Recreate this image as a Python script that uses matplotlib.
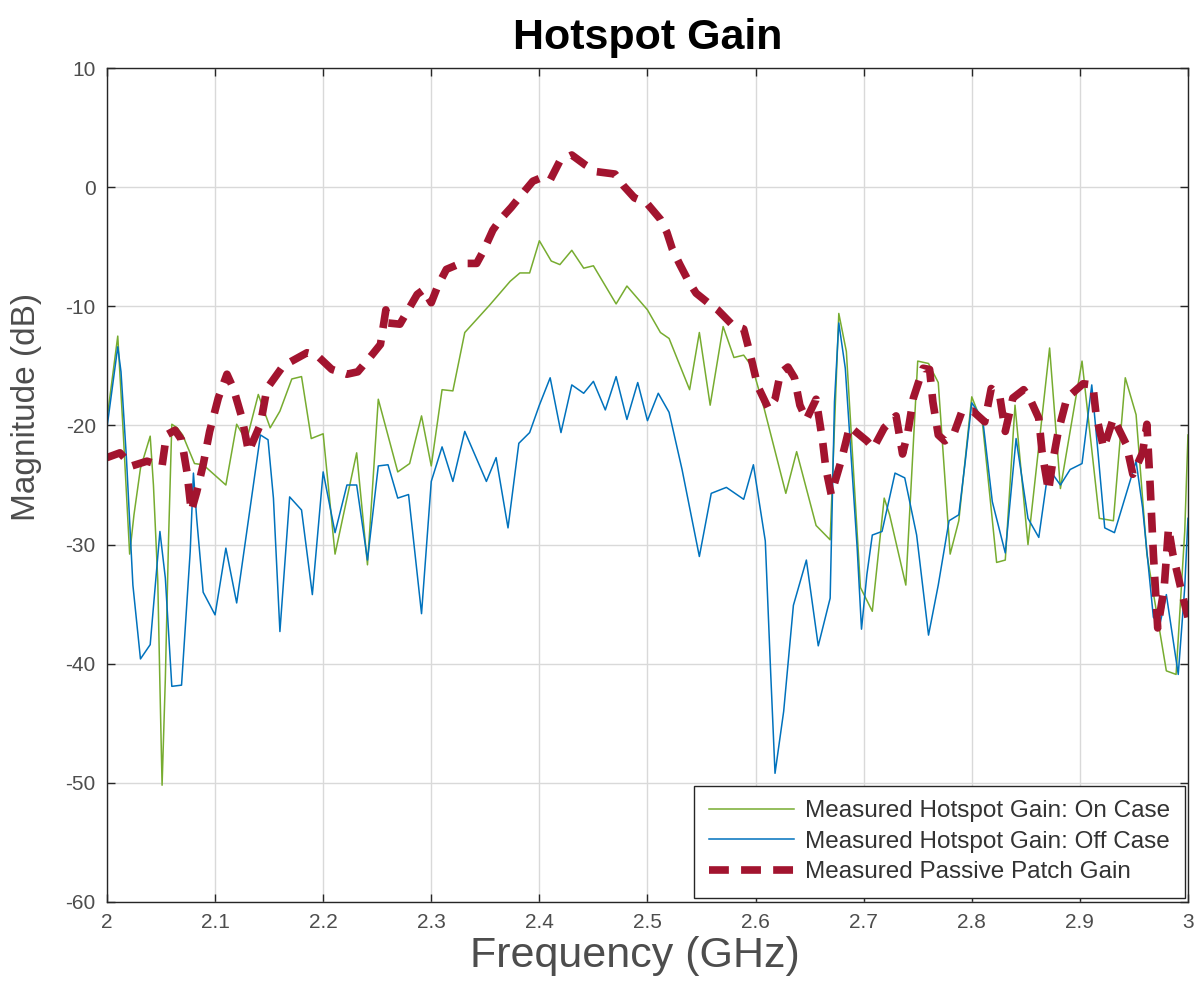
import matplotlib
matplotlib.use("Agg")
import matplotlib.pyplot as plt
import numpy as np


# measured hotspot gain, reflector switched on
freq_on = [2.000, 2.010, 2.015, 2.021, 2.025, 2.031, 2.040, 2.043, 2.047, 2.049,
           2.051, 2.054, 2.057, 2.060, 2.065, 2.070, 2.081, 2.089, 2.110, 2.120,
           2.129, 2.140, 2.151, 2.160, 2.171, 2.180, 2.189, 2.200, 2.211, 2.231,
           2.241, 2.251, 2.269, 2.280, 2.291, 2.300, 2.310, 2.320, 2.331, 2.354,
           2.373, 2.382, 2.391, 2.400, 2.411, 2.419, 2.430, 2.441, 2.450, 2.471,
           2.481, 2.500, 2.512, 2.520, 2.539, 2.548, 2.558, 2.570, 2.580, 2.589,
           2.597, 2.608, 2.628, 2.638, 2.656, 2.669, 2.677, 2.684, 2.697, 2.708,
           2.719, 2.724, 2.739, 2.750, 2.760, 2.769, 2.780, 2.788, 2.800, 2.810,
           2.823, 2.831, 2.840, 2.852, 2.872, 2.882, 2.902, 2.918, 2.931, 2.942,
           2.952, 2.962, 2.980, 2.989, 2.997, 3.000]
gain_on = [-19.5, -12.5, -20.5, -30.8, -27.5, -23.6, -20.9, -25.0, -33.0, -41.8,
           -50.2, -41.3, -29.5, -19.9, -20.2, -20.8, -23.2, -23.3, -25.0, -19.9,
           -21.3, -17.4, -20.2, -18.8, -16.1, -15.9, -21.1, -20.7, -30.8, -22.3,
           -31.7, -17.8, -23.9, -23.2, -19.2, -23.4, -17.0, -17.1, -12.2, -9.9,
           -7.9, -7.2, -7.2, -4.5, -6.2, -6.5, -5.3, -6.8, -6.6, -9.8,
           -8.3, -10.3, -12.2, -12.7, -17.0, -12.2, -18.3, -11.7, -14.3, -14.1,
           -15.1, -18.6, -25.7, -22.2, -28.4, -29.6, -10.6, -13.8, -33.6, -35.6,
           -26.1, -27.5, -33.4, -14.6, -14.8, -16.4, -30.8, -28.0, -17.6, -19.9,
           -31.5, -31.3, -18.3, -30.0, -13.5, -25.3, -14.6, -27.8, -28.0, -16.0,
           -19.1, -30.8, -40.6, -40.9, -28.9, -20.8]

# measured hotspot gain, reflector switched off
freq_off = [2.000, 2.010, 2.013, 2.018, 2.024, 2.031, 2.040, 2.049, 2.054, 2.060,
            2.069, 2.077, 2.080, 2.083, 2.089, 2.100, 2.110, 2.120, 2.142, 2.149,
            2.154, 2.160, 2.169, 2.180, 2.190, 2.200, 2.211, 2.222, 2.231, 2.241,
            2.251, 2.260, 2.269, 2.279, 2.291, 2.300, 2.310, 2.320, 2.331, 2.351,
            2.360, 2.371, 2.381, 2.391, 2.400, 2.410, 2.420, 2.430, 2.441, 2.450,
            2.461, 2.471, 2.481, 2.491, 2.500, 2.510, 2.520, 2.532, 2.548, 2.559,
            2.573, 2.589, 2.598, 2.609, 2.614, 2.618, 2.626, 2.635, 2.647, 2.658,
            2.669, 2.673, 2.677, 2.683, 2.694, 2.698, 2.703, 2.708, 2.717, 2.729,
            2.738, 2.749, 2.760, 2.769, 2.779, 2.788, 2.794, 2.800, 2.810, 2.819,
            2.831, 2.841, 2.852, 2.862, 2.871, 2.882, 2.891, 2.902, 2.911, 2.917,
            2.923, 2.932, 2.952, 2.958, 2.968, 2.974, 2.980, 2.991, 2.997, 3.000]
gain_off = [-20.2, -13.4, -15.5, -22.7, -33.4, -39.6, -38.4, -28.9, -32.8, -41.9,
            -41.8, -30.6, -24.0, -27.8, -34.0, -35.9, -30.3, -34.9, -20.8, -21.2,
            -26.1, -37.3, -26.0, -27.1, -34.2, -23.9, -29.0, -25.0, -25.0, -31.3,
            -23.4, -23.3, -26.1, -25.8, -35.8, -24.7, -21.8, -24.7, -20.5, -24.7,
            -22.7, -28.6, -21.5, -20.6, -18.3, -16.0, -20.6, -16.6, -17.3, -16.3,
            -18.7, -15.9, -19.5, -16.4, -19.6, -17.3, -18.9, -23.7, -31.0, -25.7,
            -25.2, -26.2, -23.3, -29.7, -40.8, -49.2, -44.0, -35.1, -31.3, -38.5,
            -34.5, -18.0, -11.4, -15.2, -30.3, -37.1, -32.5, -29.2, -28.9, -24.0,
            -24.4, -29.2, -37.6, -33.4, -28.0, -27.5, -23.0, -18.1, -19.4, -26.4,
            -30.7, -21.1, -27.8, -29.4, -23.6, -25.0, -23.7, -23.2, -16.6, -22.5,
            -28.6, -29.0, -23.0, -26.9, -36.1, -36.7, -34.2, -40.9, -33.6, -27.8]

# measured passive patch gain
freq_patch = [2.000, 2.012, 2.023, 2.037, 2.051, 2.055, 2.063, 2.069, 2.074, 2.078,
              2.083, 2.089, 2.095, 2.103, 2.111, 2.117, 2.125, 2.131, 2.142, 2.148,
              2.163, 2.171, 2.185, 2.194, 2.208, 2.222, 2.232, 2.245, 2.253, 2.258,
              2.260, 2.271, 2.287, 2.293, 2.300, 2.306, 2.314, 2.327, 2.342, 2.348,
              2.357, 2.364, 2.374, 2.382, 2.394, 2.402, 2.410, 2.419, 2.430, 2.442,
              2.453, 2.470, 2.478, 2.488, 2.499, 2.512, 2.518, 2.523, 2.530, 2.538,
              2.545, 2.556, 2.565, 2.579, 2.589, 2.595, 2.602, 2.612, 2.618, 2.623,
              2.630, 2.636, 2.641, 2.647, 2.656, 2.662, 2.665, 2.670, 2.680, 2.687,
              2.703, 2.709, 2.719, 2.730, 2.736, 2.741, 2.746, 2.755, 2.761, 2.764,
              2.769, 2.775, 2.783, 2.791, 2.801, 2.812, 2.818, 2.826, 2.831, 2.838,
              2.848, 2.854, 2.862, 2.865, 2.871, 2.875, 2.880, 2.888, 2.903, 2.912,
              2.915, 2.922, 2.931, 2.943, 2.949, 2.958, 2.962, 2.965, 2.968, 2.972,
              2.978, 2.982, 2.986, 2.994, 3.000]
gain_patch = [-22.7, -22.3, -23.4, -23.0, -23.4, -20.8, -20.4, -21.2, -23.9, -27.2,
              -25.6, -23.3, -20.5, -17.7, -15.7, -16.9, -19.4, -22.2, -19.9, -16.9,
              -15.0, -14.6, -13.9, -14.1, -15.3, -15.7, -15.5, -14.1, -13.2, -10.3,
              -11.4, -11.5, -9.0, -8.6, -9.7, -8.3, -6.9, -6.4, -6.4, -5.4,
              -3.6, -2.7, -1.7, -0.8, 0.5, 0.8, 0.6, 2.2, 2.7, 1.9,
              1.3, 1.1, 0.1, -0.9, -1.3, -2.7, -3.8, -5.2, -6.5, -7.9,
              -8.9, -9.7, -10.3, -11.6, -11.9, -14.0, -16.7, -18.6, -17.8, -15.6,
              -15.1, -16.0, -18.3, -19.5, -17.8, -21.3, -23.6, -25.8, -22.7, -20.1,
              -21.3, -21.9, -20.2, -19.2, -22.4, -20.5, -17.7, -15.2, -15.3, -18.0,
              -20.8, -21.3, -20.8, -18.8, -18.8, -19.7, -16.9, -17.6, -20.5, -17.7,
              -17.0, -17.8, -19.4, -22.2, -25.5, -23.0, -20.5, -17.7, -16.5, -16.6,
              -19.1, -21.9, -19.4, -21.6, -24.1, -22.3, -19.9, -25.0, -30.8, -37.0,
              -33.6, -28.6, -30.8, -33.9, -36.1]

x_ticks = [2, 2.1, 2.2, 2.3, 2.4, 2.5, 2.6, 2.7, 2.8, 2.9, 3]
x_tick_labels = ["2", "2.1", "2.2", "2.3", "2.4", "2.5", "2.6", "2.7", "2.8", "2.9", "3"]
y_ticks = [-60, -50, -40, -30, -20, -10, 0, 10]

COL_ON = "#77AC30"
COL_OFF = "#0072BD"
COL_PATCH = "#A2142F"
COL_AX = "#262626"

plt.rcParams["font.family"] = ["Liberation Sans", "DejaVu Sans"]
plt.rcParams["axes.unicode_minus"] = False

fig = plt.figure(figsize=(11.99, 9.96), dpi=100)
ax = fig.add_axes([0.0892, 0.0944, 0.9016, 0.8373])

ax.plot(freq_on, gain_on, color=COL_ON, lw=1.1, label="Measured Hotspot Gain: On Case")
ax.plot(freq_off, gain_off, color=COL_OFF, lw=1.1, label="Measured Hotspot Gain: Off Case")
ax.plot(freq_patch, gain_patch, color=COL_PATCH, lw=5.5, linestyle=(0, (2.6, 1.6)),
        dash_capstyle="butt", label="Measured Passive Patch Gain")

ax.set_xlim(2, 3)
ax.set_ylim(-60, 10)
ax.set_xticks(x_ticks)
ax.set_xticklabels(x_tick_labels)
ax.set_yticks(y_ticks)

ax.grid(True, color="#d9d9d9", lw=1.0)
ax.set_axisbelow(True)
for s in ax.spines.values():
    s.set_color(COL_AX)
    s.set_linewidth(1.0)
ax.tick_params(direction="in", length=6, width=1.0, color=COL_AX,
               top=True, right=True, labelsize=15, labelcolor="#4d4d4d", pad=8)

ax.set_title("Hotspot Gain", fontsize=31, fontweight="bold", pad=14)
ax.set_xlabel("Frequency (GHz)", fontsize=31, color="#4d4d4d")
ax.xaxis.set_label_coords(0.488, -0.041)
ax.set_ylabel("Magnitude (dB)", fontsize=24, color="#4d4d4d")
ax.yaxis.set_label_coords(-0.060, 0.594)

leg = ax.legend(loc="lower right", bbox_to_anchor=(0.997, 0.005), borderaxespad=0,
                fontsize=17.5, frameon=True, fancybox=False, framealpha=1,
                edgecolor=COL_AX, handlelength=3.5, handletextpad=0.45,
                labelspacing=0.35, borderpad=0.6)
leg.get_frame().set_linewidth(1.0)
for t in leg.get_texts():
    t.set_color("#333333")

fig.savefig("out.png", dpi=100)
